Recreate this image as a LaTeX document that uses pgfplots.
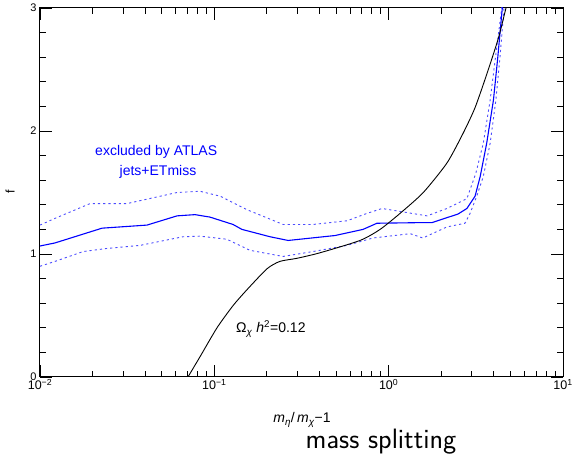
\documentclass[border=0pt]{standalone}
\usepackage{fontspec}
\setmainfont{Liberation Sans}
\usepackage{pgfplots}
\pgfplotsset{compat=1.18}
\usetikzlibrary{calc}

\tikzset{
  bnd/.style = {blue!70, line width=0.9pt, dash pattern=on 2.2pt off 3pt},
}

\begin{document}
\begin{tikzpicture}
\begin{axis}[
  name=ax,
  scale only axis, width=523pt, height=369pt,
  xmode=log, xmin=0.01, xmax=10, ymin=0, ymax=3,
  xtick={0.01,0.1,1,10},
  xticklabels={10\textsuperscript{−2},10\textsuperscript{−1},10\textsuperscript{0},10\textsuperscript{1}},
  minor xtick={0.02,0.03,0.04,0.05,0.06,0.07,0.08,0.09,0.2,0.3,0.4,0.5,0.6,0.7,0.8,0.9,2,3,4,5,6,7,8,9},
  ytick={0,1,2,3}, yticklabels={0,1,2,3},
  minor ytick={0.2,0.4,0.6,0.8,1.2,1.4,1.6,1.8,2.2,2.4,2.6,2.8},
  tick align=inside, major tick length=12pt, minor tick length=6pt,
  tick style={black, line width=0.8pt},
  axis line style={line width=1pt},
  xticklabel style={font=\fontsize{12.5}{14}\selectfont, yshift=1pt},
  yticklabel style={font=\fontsize{11}{13}\selectfont},
]
% upper band
\addplot[bnd] coordinates {
(0.01,1.235)(0.0122,1.29)(0.0194,1.41)(0.0316,1.41)(0.0611,1.50)(0.0828,1.51)
(0.108,1.47)(0.154,1.36)(0.248,1.24)(0.368,1.24)(0.577,1.27)(0.751,1.33)
(0.916,1.37)(1.117,1.35)(1.66,1.31)(2.16,1.37)(2.81,1.45)(3.16,1.655)
(3.49,1.90)(3.82,2.25)(4.10,2.60)(4.50,3.05)};
% lower band
\addplot[bnd] coordinates {
(0.01,0.90)(0.0122,0.94)(0.0177,1.02)(0.0242,1.045)(0.0375,1.07)(0.066,1.14)
(0.0828,1.145)(0.118,1.12)(0.160,1.03)(0.248,0.98)(0.368,1.02)(0.577,1.07)
(0.812,1.13)(1.33,1.165)(1.57,1.13)(2.16,1.22)(2.74,1.25)(2.93,1.33)
(3.20,1.47)(3.49,1.63)(3.82,1.90)(4.12,2.25)(4.35,2.60)(4.62,3.05)};
% central exclusion
\addplot[blue, line width=1.1pt] coordinates {
(0.01,1.065)(0.0122,1.09)(0.0227,1.21)(0.0411,1.235)(0.0611,1.31)(0.0775,1.32)
(0.0944,1.30)(0.128,1.24)(0.144,1.20)(0.209,1.14)(0.265,1.11)(0.492,1.15)
(0.713,1.20)(0.857,1.25)(1.51,1.255)(1.77,1.255)(2.50,1.325)(2.81,1.37)
(3.13,1.47)(3.35,1.63)(3.65,1.90)(3.99,2.25)(4.22,2.59)(4.52,3.05)};
% relic density
\addplot[black, line width=0.9pt, smooth, tension=0.4] coordinates {
(0.0706,0)(0.0828,0.165)(0.1036,0.40)(0.128,0.58)(0.154,0.71)
(0.2006,0.88)(0.238,0.94)(0.298,0.965)(0.404,1.01)(0.685,1.11)(0.893,1.20)
(1.162,1.33)(1.58,1.50)(2.16,1.74)(2.67,1.98)(3.13,2.19)(3.67,2.47)
(4.27,2.76)(4.82,3.06)};

\node[blue, font=\fontsize{14}{16}\selectfont] at (axis cs:0.0464,1.83) {excluded by ATLAS};
\node[blue, font=\fontsize{14}{16}\selectfont] at (axis cs:0.0475,1.667) {jets+ETmiss};
\node[font=\fontsize{14}{16}\selectfont] at (axis cs:0.211,0.39)
  {Ω\textsubscript{\itshape χ} {\itshape h}\textsuperscript{2}=0.12};
\end{axis}

\node[anchor=base, font=\fontsize{14}{16}\selectfont]
  at ($(ax.south west)+(262pt,-46pt)$)
  {{\itshape m}\textsubscript{\itshape η}/\,{\itshape m}\textsubscript{\itshape χ}−1};
\node[rotate=90, font=\fontsize{12.5}{14}\selectfont]
  at ($(ax.south west)+(-30pt,185pt)$) {f};
\node[anchor=base, font=\fontsize{28}{32}\selectfont\sffamily]
  at ($(ax.south west)+(341pt,-72pt)$) {mass splitting};

\pgfresetboundingbox
\path ($(ax.south west)+(-40pt,-85pt)$) rectangle ($(ax.north east)+(13pt,8pt)$);
\end{tikzpicture}
\end{document}
